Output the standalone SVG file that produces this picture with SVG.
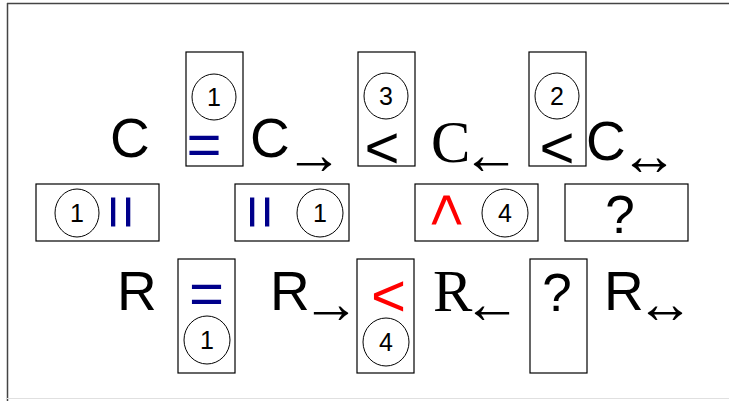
<svg xmlns="http://www.w3.org/2000/svg" width="729" height="401" viewBox="0 0 729 401">
<style>
.box{fill:#fff;stroke:#000;stroke-width:1.2}
.cir{fill:none;stroke:#000;stroke-width:1}
.num{font-family:"Liberation Sans",Arial,sans-serif;font-size:25px;text-anchor:middle;fill:#000}
.big{font-family:"Liberation Sans",Arial,sans-serif;font-size:55px;fill:#000}
.ser{font-family:"Liberation Serif","Times New Roman",serif;font-size:59px;fill:#000}
.arr{font-family:"Liberation Serif","DejaVu Serif",serif;font-size:58px;fill:#000}
.op{font-family:"Liberation Sans",Arial,sans-serif;font-size:60px;text-anchor:middle}
.blue{fill:#00008b}
.red{fill:#ff0000}
.blk{fill:#000}
.q{font-family:"Liberation Sans",Arial,sans-serif;font-size:53px;text-anchor:middle;fill:#000}
</style>
<g id="frame">
<line x1="7" y1="3.5" x2="729" y2="3.5" stroke="#444" stroke-width="1.5"/>
<line x1="7.5" y1="3" x2="7.5" y2="401" stroke="#444" stroke-width="1.5"/>
<line x1="7" y1="398.5" x2="729" y2="398.5" stroke="#e0e0e0" stroke-width="1"/>
</g>
<g id="connectors"></g>
<!-- Row 1 -->
<g id="C"><text class="big" x="110" y="157">C</text></g>
<g id="box-r1-1">
<rect class="box" x="186" y="52" width="57" height="114"/>
<ellipse class="cir" cx="214" cy="97" rx="22" ry="23"/>
<text class="num" x="214" y="106">1</text>
<text class="op blue" x="204" y="165">=</text>
</g>
<g id="C-right"><text class="big" x="250" y="157">C<tspan class="arr" x="285" y="174">→</tspan></text></g>
<g id="box-r1-2">
<rect class="box" x="358" y="52" width="57" height="114"/>
<ellipse class="cir" cx="386" cy="96" rx="22" ry="23"/>
<text class="num" x="386" y="105">3</text>
<text class="op blk" x="382" y="168">&lt;</text>
</g>
<g id="C-left"><text class="ser" x="431" y="162">C<tspan class="arr" x="462" y="174">←</tspan></text></g>
<g id="box-r1-3">
<rect class="box" x="529" y="52" width="57" height="114"/>
<ellipse class="cir" cx="557" cy="96" rx="22" ry="23"/>
<text class="num" x="557" y="105">2</text>
<text class="op blk" x="557" y="168">&lt;</text>
</g>
<g id="C-both"><text class="big" x="586" y="160">C<tspan class="arr" x="620" y="175">↔</tspan></text></g>
<!-- Row 2 -->
<g id="box-r2-1">
<rect class="box" x="36" y="184" width="123" height="57"/>
<ellipse class="cir" cx="77" cy="213" rx="22" ry="24"/>
<text class="num" x="77" y="222">1</text>
<text class="op blue" transform="translate(121,212) rotate(90)" x="0" y="20">=</text>
</g>
<g id="box-r2-2">
<rect class="box" x="235" y="184" width="114" height="57"/>
<text class="op blue" transform="translate(260,212) rotate(90)" x="0" y="20">=</text>
<ellipse class="cir" cx="320" cy="213" rx="23" ry="24"/>
<text class="num" x="320" y="222">1</text>
</g>
<g id="box-r2-3">
<rect class="box" x="415" y="184" width="123" height="57"/>
<text class="op red" transform="translate(446.5,210) rotate(90)" x="0" y="20">&lt;</text>
<ellipse class="cir" cx="505" cy="213" rx="23" ry="24"/>
<text class="num" x="505" y="222">4</text>
</g>
<g id="box-r2-4">
<rect class="box" x="565" y="184" width="123" height="57"/>
<text class="q" x="620" y="233">?</text>
</g>
<!-- Row 3 -->
<g id="R"><text class="big" x="117" y="310">R</text></g>
<g id="box-r3-1">
<rect class="box" x="178" y="259" width="57" height="114"/>
<text class="op blue" x="206.5" y="314">=</text>
<ellipse class="cir" cx="207" cy="340" rx="23" ry="24"/>
<text class="num" x="207" y="349">1</text>
</g>
<g id="R-right"><text class="big" x="270" y="310">R<tspan class="arr" x="302" y="323">→</tspan></text></g>
<g id="box-r3-2">
<rect class="box" x="357" y="259" width="57" height="114"/>
<text class="op red" x="388.5" y="316">&lt;</text>
<ellipse class="cir" cx="386" cy="342" rx="23" ry="24"/>
<text class="num" x="386" y="351">4</text>
</g>
<g id="R-left"><text class="ser" x="433" y="311">R<tspan class="arr" x="463" y="323">←</tspan></text></g>
<g id="box-r3-3">
<rect class="box" x="530" y="259" width="57" height="114"/>
<text class="q" x="557" y="311">?</text>
</g>
<g id="R-both"><text class="big" x="604" y="310">R<tspan class="arr" x="636" y="323">↔</tspan></text></g>
</svg>
